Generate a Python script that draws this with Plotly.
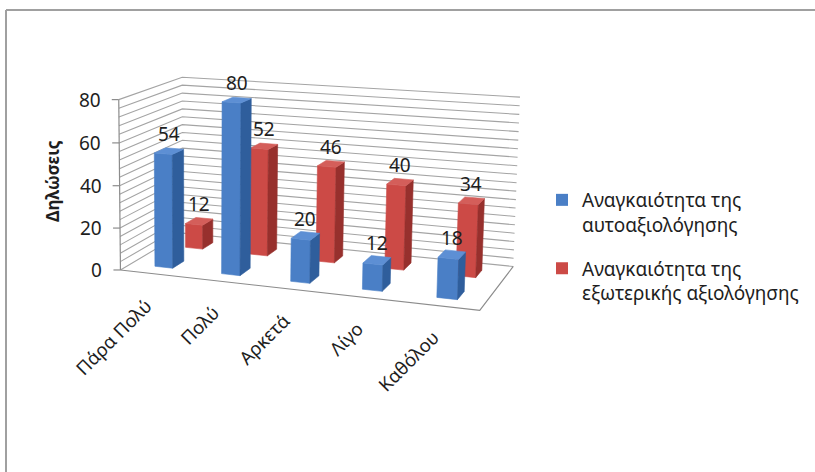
import numpy as np
import plotly.graph_objects as go

# ---- data -------------------------------------------------------------
categories = ["Πάρα Πολύ", "Πολύ", "Αρκετά", "Λίγο", "Καθόλου"]
series_names = [
    "Αναγκαιότητα της<br>αυτοαξιολόγησης",
    "Αναγκαιότητα της<br>εξωτερικής αξιολόγησης",
]
self_eval = [54, 80, 20, 12, 18]
external_eval = [12, 52, 46, 40, 34]
value_ticks = [0, 20, 40, 60, 80]
axis_title = "Δηλώσεις"

# ---- styling ----------------------------------------------------------
W, H = 815, 472
FONT = "Noto Sans"
TEXT = "#1e1e1e"
GRID = "#a4a4a4"
AXIS = "#8c8c8c"
FACE_COLORS = [  # front, side, top
    ("#4a7fc6", "#2f5e9c", "#5d8fd4"),
    ("#cc4a46", "#97302d", "#d45e5a"),
]
BAR_W = 0.27       # share of a category slot along the category axis
BAR_D = 0.36       # share of a series row along the depth axis
MINOR_STEP = 4     # value gap between wall grid lines

series_values = [self_eval, external_eval]
n_cat = len(categories)
n_row = len(series_values)
v_max = value_ticks[-1]

# ---- camera -----------------------------------------------------------
# Pixel placement of the plot-box corners; a pinhole camera (3x4 matrix)
# is fitted to them, and every 3-D point of the scene goes through it.
box_world = [
    (0, 0, 0), (0, 0, v_max), (0, n_row, v_max), (n_cat, n_row, v_max),
    (n_cat, n_row, 0), (n_cat, 0, 0), (0, n_row, 0),
]
box_screen = [
    (120, 270), (119, 100), (182, 77), (520, 97),
    (513, 267), (480, 310), (183, 233),
]


def fit_camera(world, screen):
    w = np.array(world, float)
    s = np.array(screen, float)
    wn = w / np.array([1.0, 1.0, v_max / 4.0])
    sn = (s - 300.0) / 200.0
    rows = []
    for (X, Y, Z), (u, v) in zip(wn, sn):
        rows.append([X, Y, Z, 1, 0, 0, 0, 0, -u * X, -u * Y, -u * Z, -u])
        rows.append([0, 0, 0, 0, X, Y, Z, 1, -v * X, -v * Y, -v * Z, -v])
    _, _, vt = np.linalg.svd(np.array(rows))
    return vt[-1].reshape(3, 4)


CAM = fit_camera(box_world, box_screen)


def project(x, y, z):
    p = CAM @ np.array([x, y, z / (v_max / 4.0), 1.0])
    return 300.0 + 200.0 * p[0] / p[2], 300.0 + 200.0 * p[1] / p[2]


def path(points):
    xs, ys = [], []
    for pt in points:
        u, v = project(*pt)
        xs.append(u)
        ys.append(v)
    return xs, ys


fig = go.Figure()


def add_poly(points, fill, line=None, width=0.6):
    xs, ys = path(points)
    fig.add_trace(go.Scatter(
        x=xs + [xs[0]], y=ys + [ys[0]], mode="lines", fill="toself",
        fillcolor=fill, line=dict(color=line or fill, width=width),
        hoverinfo="skip", showlegend=False))


# ---- walls and floor --------------------------------------------------
add_poly([(0, 0, 0), (n_cat, 0, 0), (n_cat, n_row, 0), (0, n_row, 0)], "white", "white")

gx, gy = [], []
for z in range(0, v_max + 1, MINOR_STEP):
    xs, ys = path([(0, 0, z), (0, n_row, z), (n_cat, n_row, z)])
    gx += xs + [None]
    gy += ys + [None]
fig.add_trace(go.Scatter(x=gx, y=gy, mode="lines", line=dict(color=GRID, width=1.1),
                         hoverinfo="skip", showlegend=False))

# floor outline (front and right edges)
fx, fy = path([(0, 0, 0), (n_cat, 0, 0), (n_cat, n_row, 0)])
fig.add_trace(go.Scatter(x=fx, y=fy, mode="lines", line=dict(color=AXIS, width=1.2),
                         hoverinfo="skip", showlegend=False))

# value axis with ticks
ax_x, ax_y = path([(0, 0, 0), (0, 0, v_max)])
ax_x += [None]
ax_y += [None]
for t in value_ticks:
    u, v = project(0, 0, t)
    ax_x += [u - 7, u, None]
    ax_y += [v, v, None]
fig.add_trace(go.Scatter(x=ax_x, y=ax_y, mode="lines", line=dict(color=AXIS, width=1.2),
                         hoverinfo="skip", showlegend=False))

# ---- bars (back row first so the front row covers it) -------------------
annotations = []
for row in reversed(range(n_row)):
    front, side, top = FACE_COLORS[row]
    for i, val in enumerate(series_values[row]):
        x0, x1 = i + 0.5 - BAR_W / 2, i + 0.5 + BAR_W / 2
        y0, y1 = row + 0.5 - BAR_D / 2, row + 0.5 + BAR_D / 2
        add_poly([(x0, y0, 0), (x1, y0, 0), (x1, y0, val), (x0, y0, val)], front)
        add_poly([(x1, y0, 0), (x1, y1, 0), (x1, y1, val), (x1, y0, val)], side)
        add_poly([(x0, y0, val), (x1, y0, val), (x1, y1, val), (x0, y1, val)], top)
        u, v = project(i + 0.5, row + 0.5, val)
        annotations.append(dict(x=u, y=v, xref="x", yref="y", text=str(val),
                                showarrow=False, yshift=17, yanchor="middle",
                                font=dict(family=FONT, size=19, color=TEXT)))

# ---- labels -----------------------------------------------------------
for t in value_ticks:
    u, v = project(0, 0, t)
    annotations.append(dict(x=u, y=v, xref="x", yref="y", text=str(t), showarrow=False,
                            xanchor="right", yanchor="middle", xshift=-16,
                            font=dict(family=FONT, size=19, color=TEXT)))

for i, name in enumerate(categories):
    u, v = project(i + 0.5, 0, 0)
    annotations.append(dict(x=u, y=v, xref="x", yref="y", text=name, showarrow=False,
                            textangle=-45, xanchor="right", yanchor="top",
                            xshift=6, yshift=-16,
                            font=dict(family=FONT, size=18.5, color=TEXT)))

annotations.append(dict(x=52, y=181, xref="x", yref="y", text="<b>%s</b>" % axis_title,
                        showarrow=False, textangle=-90,
                        font=dict(family=FONT, size=17, color=TEXT)))

# legend entries
for row, name in enumerate(series_names):
    fig.add_trace(go.Scatter(x=[None], y=[None], mode="markers", name=name,
                             legendgroup=str(row),
                             marker=dict(symbol="square", size=11, color=FACE_COLORS[row][0])))

# chart frame (top and left edges)
shapes = [
    dict(type="line", xref="x", yref="y", x0=6, y0=10, x1=W, y1=10,
         line=dict(color="#a0a0a0", width=2)),
    dict(type="line", xref="x", yref="y", x0=6, y0=10, x1=6, y1=H,
         line=dict(color="#a0a0a0", width=2)),
]

fig.update_layout(
    width=W, height=H, margin=dict(l=0, r=0, t=0, b=0),
    paper_bgcolor="white", plot_bgcolor="white",
    xaxis=dict(range=[0, W], visible=False, fixedrange=True),
    yaxis=dict(range=[H, 0], visible=False, fixedrange=True),
    annotations=annotations, shapes=shapes,
    legend=dict(x=542 / W, y=1 - 181 / H, xanchor="left", yanchor="top",
                valign="top", tracegroupgap=16, itemsizing="constant",
                font=dict(family=FONT, size=19, color=TEXT), bgcolor="rgba(0,0,0,0)"),
    showlegend=True,
)

fig.write_html("out.html")
